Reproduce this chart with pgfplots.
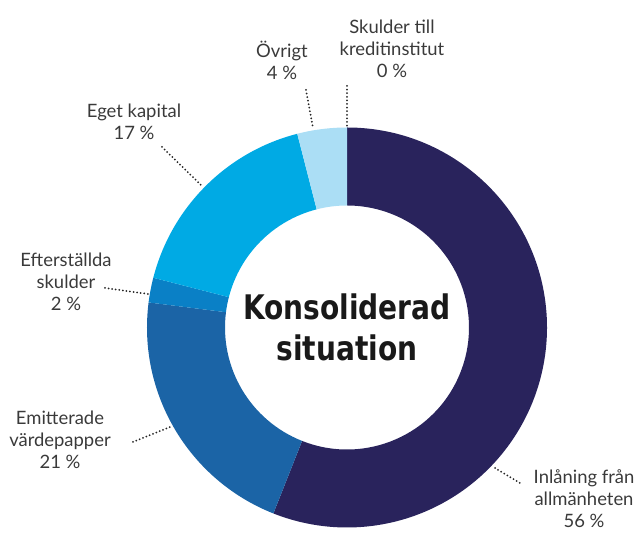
\documentclass[border=0pt]{standalone}
\usepackage{pgfplots}
\pgfplotsset{compat=1.18}
\usepackage{fontspec}
\setmainfont{Lato}
\newfontfamily\centerfont{DejaVu Sans Condensed Bold}
\definecolor{c1}{HTML}{29235C}
\definecolor{c2}{HTML}{1B64A6}
\definecolor{c3}{HTML}{0A80C6}
\definecolor{c4}{HTML}{00AAE4}
\definecolor{c5}{HTML}{ABDEF5}
\definecolor{c6}{HTML}{1B3C7A}
\definecolor{txt}{HTML}{3A3A3A}
\tikzset{leader/.style={line width=2bp, line cap=round, dash pattern=on 0pt off 3.6bp, black!85}}
\begin{document}
\begin{tikzpicture}
\gdef\angstart{90}
\begin{axis}[x=1bp, y=1bp, xmin=0, xmax=639, ymin=0, ymax=529, hide axis, clip=false]
\path (axis cs:0,0) rectangle (axis cs:639,529);
\foreach \v/\c in {56/c1, 21/c2, 2/c3, 17/c4, 4/c5, 0/c6} {
  \pgfmathsetmacro\angend{\angstart-3.6*\v}
  \edef\temp{\noexpand\fill[\c] (axis cs:{347+200*cos(\angstart)},{201.5+200*sin(\angstart)}) arc[start angle=\angstart, end angle=\angend, radius=200bp] -- (axis cs:{347+122*cos(\angend)},{201.5+122*sin(\angend)}) arc[start angle=\angend, end angle=\angstart, radius=122bp] -- cycle;}
  \temp
  \xdef\angstart{\angend}
}
% leaders
\draw[leader] (axis cs:347,443) -- (axis cs:347,402);
\draw[leader] (axis cs:306,439) -- (axis cs:313,401);
\draw[leader] (axis cs:162,382) -- (axis cs:203,342);
\draw[leader] (axis cs:105,241) -- (axis cs:148,235);
\draw[leader] (axis cs:133,87) -- (axis cs:170,102);
\draw[leader] (axis cs:495,61) -- (axis cs:520,46);
% labels
\begin{scope}[every node/.style={align=center, text=txt, font=\fontsize{18.5}{22}\selectfont, inner sep=0pt}]
\node at (axis cs:392,480) {Skulder till\\kreditinstitut\\0 \%};
\node at (axis cs:282,469) {Övrigt\\4 \%};
\node at (axis cs:134,407) {Eget kapital\\17 \%};
\node at (axis cs:66,247) {Efterställda\\skulder\\2 \%};
\node at (axis cs:60,89) {Emitterade\\värdepapper\\21 \%};
\node at (axis cs:584,30) {Inlåning från\\allmänheten\\56 \%};
\end{scope}
\node[anchor=base, inner sep=0pt, font=\centerfont\fontsize{34}{43}\selectfont, text=black!90] at (axis cs:347,209) {\scalebox{0.92}[1]{Konsoliderad}};
\node[anchor=base, inner sep=0pt, font=\centerfont\fontsize{34}{43}\selectfont, text=black!90] at (axis cs:347,168) {\scalebox{0.92}[1]{situation}};
\end{axis}
\end{tikzpicture}
\end{document}
